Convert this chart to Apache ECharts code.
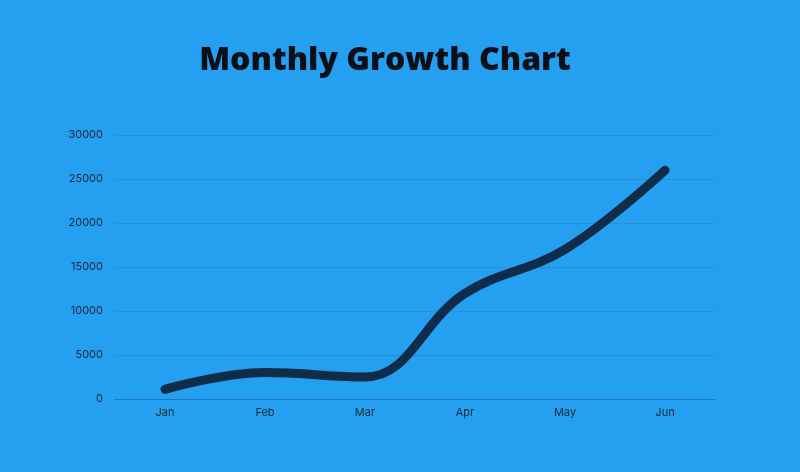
<!DOCTYPE html>
<html><head><meta charset="utf-8">
<script src="https://cdn.jsdelivr.net/npm/echarts@6/dist/echarts.min.js"></script>
<style>html,body{margin:0;padding:0;background:#259ff0}#c{width:800px;height:472px}</style>
</head><body><div id="c"></div>
<script>
const months = ['Jan','Feb','Mar','Apr','May','Jun'];
const growth = [1100, 3000, 2500, 12000, 17000, 26000];
const yTicks = {min:0, max:30000, interval:5000};
const chart = echarts.init(document.getElementById('c'));
chart.setOption({
  backgroundColor:'#259ff0',
  title:{text:'Monthly Growth Chart', left:380, top:40, textAlign:'center',
    textStyle:{fontFamily:'Open Sans', fontWeight:800, fontSize:32, color:'#0a0f18'}},
  grid:{left:115, right:85, top:135, bottom:73},
  xAxis:{type:'category', data:months, boundaryGap:true,
    axisLine:{lineStyle:{color:'#1b78c0', width:1}}, axisTick:{show:false},
    axisLabel:{color:'#1a2a3a', fontSize:11, fontFamily:'Inter', margin:8}},
  yAxis:{type:'value', min:yTicks.min, max:yTicks.max, interval:yTicks.interval,
    axisLine:{show:false}, axisTick:{show:false},
    splitLine:{lineStyle:{color:'#2a8fdb', width:1}},
    axisLabel:{color:'#1a2a3a', fontSize:11, fontFamily:'Inter', margin:12, formatter:v=>String(v)}},
  series:[{type:'line', data:growth, smooth:0.4, symbol:'none',
    lineStyle:{color:'#0f2c4a', width:9, cap:'round'}}]
});
</script></body></html>
